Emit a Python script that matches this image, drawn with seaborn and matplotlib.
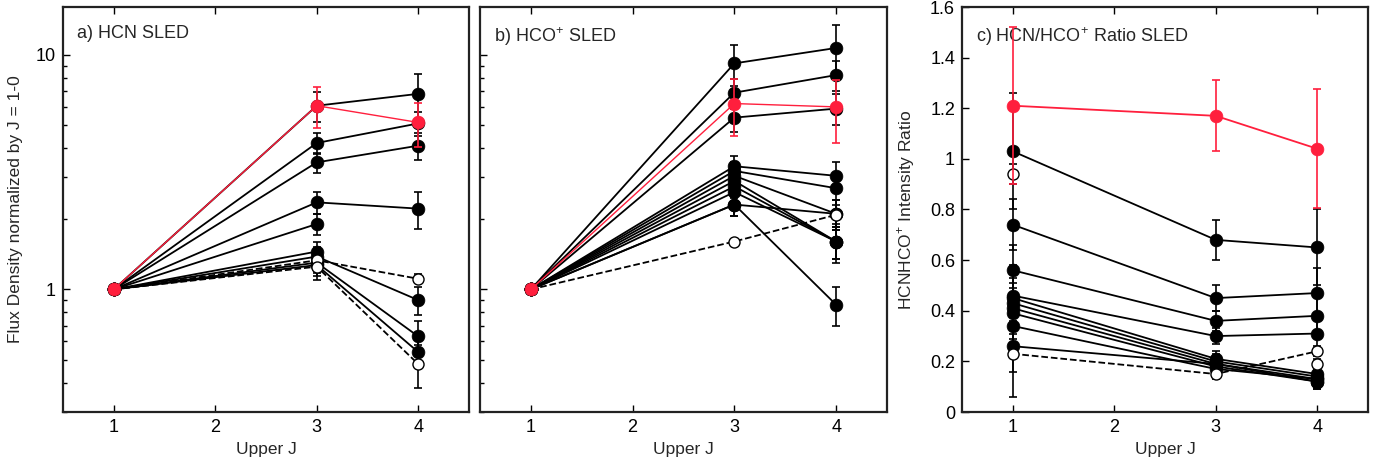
import numpy as np
import pandas as pd
import matplotlib
matplotlib.use("Agg")
import matplotlib.pyplot as plt
import seaborn as sns
from matplotlib.ticker import LogLocator, NullFormatter, FixedLocator

sns.set_theme(style="white")
plt.rcParams['font.family'] = ['Liberation Sans', 'DejaVu Sans']
plt.rcParams['mathtext.fontset'] = 'custom'
plt.rcParams['mathtext.rm'] = 'Liberation Sans'

J = [1, 3, 4]
RED = '#ff1f3d'

# ---- panel a: HCN SLED (normalized by J=1-0) ----
hcn_red = [1.0, 6.07, 5.15]
hcn_red_err = [0.0, 1.2, 1.1]
hcn_black = [
    [1.0, 6.07, 6.82],
    [1.0, 4.21, 5.10],
    [1.0, 3.48, 4.10],
    [1.0, 2.35, 2.21],
    [1.0, 1.90, np.nan],
    [1.0, 1.45, np.nan],
    [1.0, 1.38, 0.90],
    [1.0, 1.30, 0.63],
    [1.0, 1.27, 0.54],
]
hcn_black_err = [
    [0, 0.9, 1.5],
    [0, 0.45, 0.6],
    [0, 0.35, 0.55],
    [0, 0.25, 0.4],
    [0, 0.2, 0],
    [0, 0.15, 0],
    [0, 0.14, 0.12],
    [0, 0.13, 0.1],
    [0, 0.13, 0.08],
]
hcn_open = [
    [1.0, 1.33, 1.11],
    [1.0, 1.25, 0.48],
]
hcn_open_err = [
    [0, 0.13, 0.05],
    [0, 0.15, 0.1],
]

# ---- panel b: HCO+ SLED ----
hco_red = [1.0, 6.2, 6.0]
hco_red_err = [0.0, 1.7, 1.8]
hco_black = [
    [1.0, 9.2, 10.7],
    [1.0, 6.9, 8.2],
    [1.0, 5.4, 5.9],
    [1.0, 3.35, 3.05],
    [1.0, 3.2, 2.7],
    [1.0, 3.05, 2.1],
    [1.0, 2.9, 1.6],
    [1.0, 2.75, 1.6],
    [1.0, 2.6, 1.6],
    [1.0, 2.3, 2.1],
    [1.0, 2.3, 0.86],
]
hco_black_err = [
    [0, 1.8, 2.7],
    [0, 1.0, 1.2],
    [0, 0.7, 0.9],
    [0, 0.35, 0.45],
    [0, 0.3, 0.4],
    [0, 0.3, 0.3],
    [0, 0.3, 0.25],
    [0, 0.3, 0.25],
    [0, 0.25, 0.3],
    [0, 0.25, 0.3],
    [0, 0.25, 0.16],
]
hco_open = [
    [1.0, 1.6, 2.08],
]
hco_open_err = [
    [0, 0.0, 0.0],
]

# ---- panel c: HCN/HCO+ ratio SLED ----
ratio_red = [1.21, 1.17, 1.04]
ratio_red_err = [0.31, 0.14, 0.235]
ratio_black = [
    [1.03, 0.68, 0.65],
    [0.74, 0.45, 0.47],
    [0.56, 0.36, 0.38],
    [0.46, 0.30, 0.31],
    [0.45, 0.21, 0.15],
    [0.43, 0.20, 0.14],
    [0.41, 0.19, 0.13],
    [0.39, 0.18, 0.12],
    [0.34, 0.17, 0.13],
    [0.26, 0.19, 0.12],
]
ratio_black_err = [
    [0.23, 0.08, 0.15],
    [0.10, 0.05, 0.10],
    [0.10, 0.04, 0.08],
    [0.12, 0.03, 0.06],
    [0.10, 0.03, 0.03],
    [0.10, 0.03, 0.03],
    [0.10, 0.03, 0.03],
    [0.10, 0.02, 0.03],
    [0.10, 0.02, 0.03],
    [0.10, 0.02, 0.03],
]
ratio_open = [
    [0.94, np.nan, 0.19],
    [0.23, 0.15, 0.24],
]
ratio_open_err = [
    [0.04, 0.0, 0.02],
    [0.17, 0.02, 0.02],
]

W, H = 1392, 465
fig = plt.figure(figsize=(W / 100, H / 100), dpi=100)
bottom = 1 - 412 / H
height = (412 - 7) / H
axa = fig.add_axes([63 / W, bottom, 406 / W, height])
axb = fig.add_axes([480 / W, bottom, 407 / W, height])
axc = fig.add_axes([962 / W, bottom, 406 / W, height])

MS = 9.2
LW = 1.3


def segments(vals):
    """Split a series into runs of consecutive valid points."""
    runs, cur = [], []
    for j, v in zip(J, vals):
        if np.isnan(v):
            if len(cur) > 1:
                runs.append(cur)
            cur = []
        else:
            cur.append((j, v))
    if len(cur) > 1:
        runs.append(cur)
    return runs


def draw(ax, vals, errs, color, dashed=False, open_=False, ms=MS, lw=LW, z=2,
         linecolor=None):
    lc = linecolor or color
    ax.errorbar(J, vals, yerr=errs, fmt='none', ecolor=color, elinewidth=1.2,
                capsize=3, capthick=1.2, zorder=z)
    for run in segments(vals):
        d = pd.DataFrame(run, columns=['J', 'v'])
        sns.lineplot(data=d, x='J', y='v', ax=ax, color=lc, lw=lw,
                     linestyle='--' if dashed else '-', estimator=None, sort=False,
                     legend=False, zorder=z)
    d = pd.DataFrame({'J': J, 'v': vals}).dropna()
    if open_:
        sns.scatterplot(data=d, x='J', y='v', ax=ax, s=ms ** 2 * 0.75, marker='o',
                        facecolor='white', edgecolor=color, linewidth=1.0,
                        legend=False, zorder=z + 0.5)
    else:
        sns.scatterplot(data=d, x='J', y='v', ax=ax, s=ms ** 2, marker='o',
                        color=color, edgecolor=color, linewidth=0.5,
                        legend=False, zorder=z + 0.5)


for vals, errs in zip(hcn_black, hcn_black_err):
    draw(axa, vals, errs, 'black')
for vals, errs in zip(hcn_open, hcn_open_err):
    draw(axa, vals, errs, 'black', dashed=True, open_=True)
draw(axa, hcn_red, hcn_red_err, RED, lw=1.0, z=4)

for vals, errs in zip(hco_black, hco_black_err):
    draw(axb, vals, errs, 'black')
for vals, errs in zip(hco_open, hco_open_err):
    draw(axb, vals, errs, 'black', dashed=True, open_=True)
draw(axb, hco_red, hco_red_err, RED, lw=1.0, z=4)

for vals, errs in zip(ratio_black, ratio_black_err):
    draw(axc, vals, errs, 'black')
for vals, errs in zip(ratio_open, ratio_open_err):
    draw(axc, vals, errs, 'black', dashed=True, open_=True)
draw(axc, ratio_red, ratio_red_err, RED, lw=1.3, z=4)

for ax in (axa, axb, axc):
    ax.set_xlim(0.5, 4.5)
    ax.set_xticks([1, 2, 3, 4])
    ax.set_xticklabels(['1', '2', '3', '4'])
    ax.set_xlabel('Upper J', fontsize=12.5, labelpad=4)
    ax.tick_params(axis='both', which='both', direction='in', labelsize=13,
                   colors='black', pad=5)
    ax.tick_params(axis='x', which='major', length=5, width=1, top=True, bottom=True)
    ax.tick_params(axis='y', which='major', length=5, width=1, left=True, right=False)
    ax.tick_params(axis='y', which='minor', length=3, width=1, left=True, right=False)
    for s in ax.spines.values():
        s.set_color('#222222')
        s.set_linewidth(1.6)
    ax.set_facecolor('white')

for ax in (axa, axb):
    ax.set_yscale('log')
    ax.set_ylim(0.3, 16)
    ax.yaxis.set_major_locator(FixedLocator([1, 10]))
    ax.yaxis.set_minor_locator(LogLocator(base=10, subs=np.arange(2, 10) * 1.0))
    ax.yaxis.set_minor_formatter(NullFormatter())

axa.set_yticklabels(['1', '10'])
axb.set_yticklabels([])
axa.set_ylabel('Flux Density normalized by J = 1-0', fontsize=12.5)
axa.yaxis.set_label_coords(-0.098, 0.5)
axb.set_ylabel('')

axc.set_ylim(0, 1.6)
cticks = [0, 0.2, 0.4, 0.6, 0.8, 1.0, 1.2, 1.4, 1.6]
axc.set_yticks(cticks)
axc.set_yticklabels(['0', '0.2', '0.4', '0.6', '0.8', '1', '1.2', '1.4', '1.6'])
axc.set_ylabel('HCNHCO$^{+}$ Intensity Ratio', fontsize=12.5)
axc.yaxis.set_label_coords(-0.11, 0.5)

axa.text(0.035, 0.955, 'a) HCN SLED', transform=axa.transAxes, fontsize=13,
         va='top', ha='left')
axb.text(0.035, 0.955, 'b) HCO$^{+}$ SLED', transform=axb.transAxes, fontsize=13,
         va='top', ha='left')
axc.text(0.035, 0.955, 'c) HCN/HCO$^{+}$ Ratio SLED', transform=axc.transAxes,
         fontsize=13, va='top', ha='left')

fig.savefig('out.png', dpi=100, facecolor='white')
